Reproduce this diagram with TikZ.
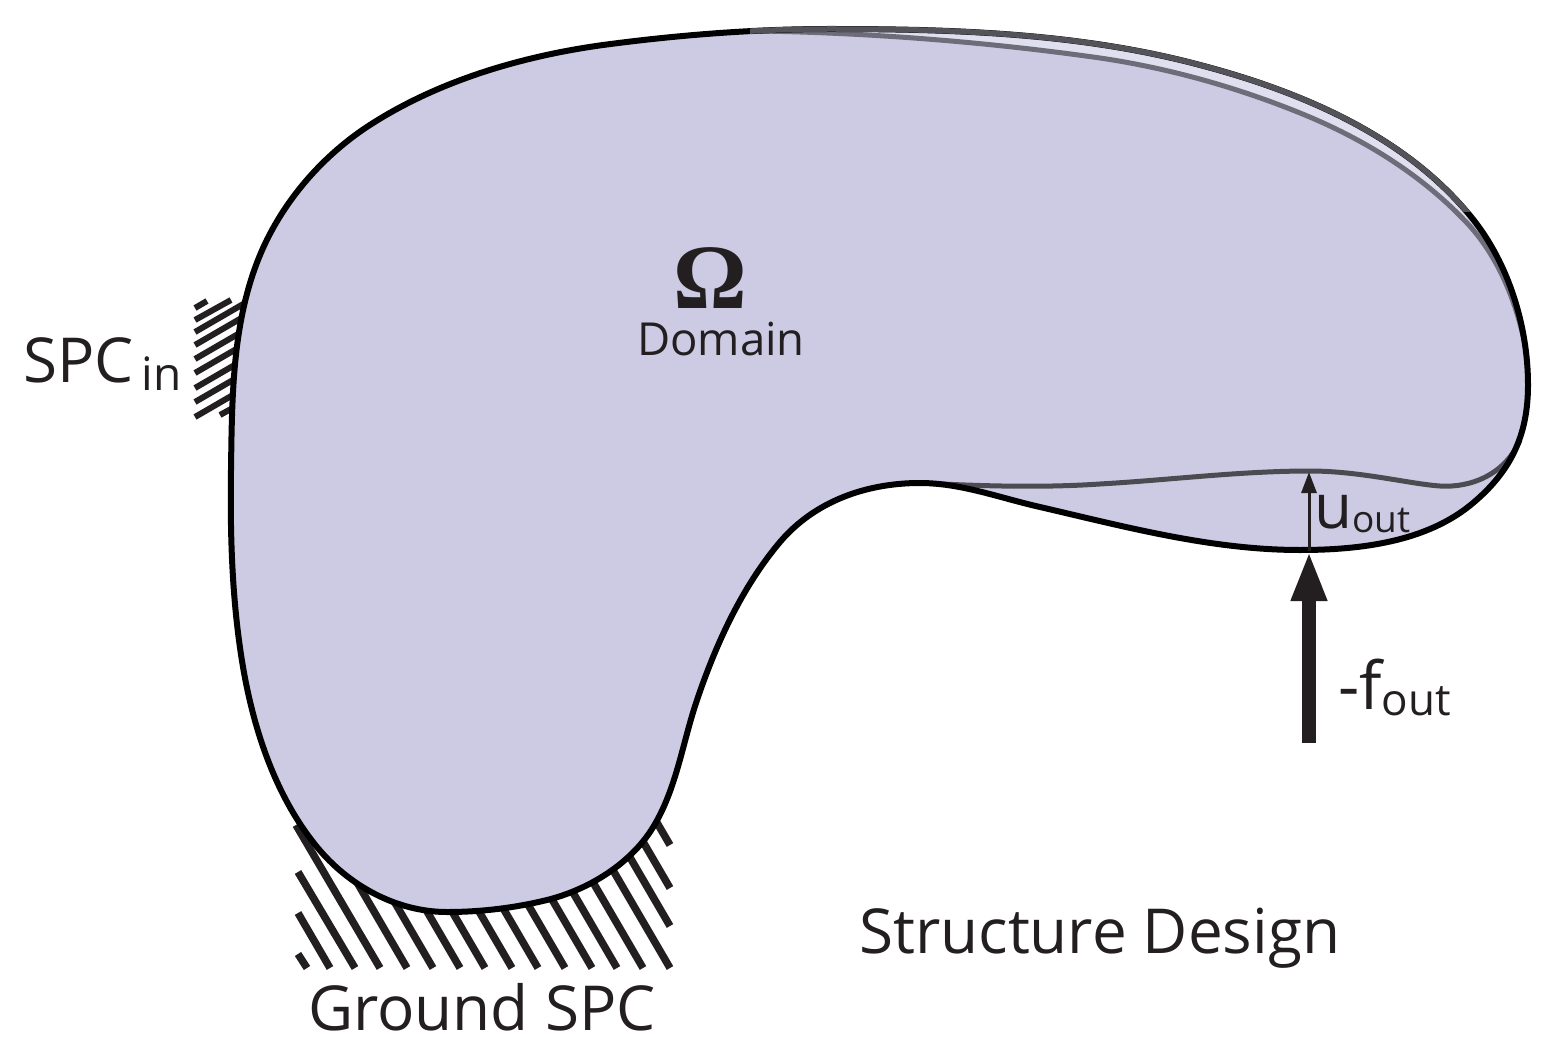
\documentclass[tikz,border=0pt]{standalone}
\usepackage{fontspec}
\setmainfont{Open Sans}
\newfontfamily\omegafont{Liberation Serif}
\usetikzlibrary{arrows.meta}
\definecolor{domainfill}{HTML}{CCCBE3}
\definecolor{gapfill}{HTML}{DFDFF0}
\definecolor{inkblack}{HTML}{231F20}
\definecolor{outergray}{HTML}{55535A}
\definecolor{innergray}{HTML}{6E6C78}
\definecolor{lowergray}{HTML}{4D4B52}
\newcommand{\fs}[1]{\fontsize{#1}{#1}\selectfont}
\tikzset{
  outline/.style={draw=black, line width=6pt, line join=round},
  outermoved/.style={draw=outergray, line width=5.5pt},
  innermoved/.style={draw=innergray, line width=5pt},
  lowermoved/.style={draw=lowergray, line width=5pt},
  hatch/.style={draw=inkblack, line width=7.5pt},
  hatchin/.style={draw=inkblack, line width=6pt},
  textlabel/.style={anchor=base west, inner sep=0pt, text=inkblack},
}
\begin{document}
\begin{tikzpicture}[x=1pt, y=-1pt]
  \useasboundingbox (0,0) rectangle (1560,1059);
  \foreach \xb/\yb/\xa/\ya in {307/968/298/954, 330/968/298/913, 355/968/298/872, 380/968/296/825}
    \draw[hatch] (\xa,\ya) -- (\xb,\yb);
  \foreach \xb in {407,433,460,485,512,538,565,592,617,643,670}
    \draw[hatch] (\xb-70,848) -- (\xb,968);
  \foreach \yb in {926,888,845}
    \draw[hatch] (600,\yb-120) -- (670,\yb);
  \draw[hatchin] (195,308) -- (207,301);
  \draw[hatchin] (195,320) -- (231,300);
  \foreach \ya in {332,345,359,373,388,402,417}
    \draw[hatchin] (195,\ya) -- (245,\ya-29);
  \draw[hatchin] (220,415) -- (240,404);
  \path[save path=\outlinepath] (830,29)
    .. controls (954,29) and (1080,33) .. (1200,65)
    .. controls (1299,91) and (1401,134) .. (1467,212)
    .. controls (1507,258) and (1528,324) .. (1528,385)
    .. controls (1528,435) and (1511,471) .. (1473,503)
    .. controls (1427,542) and (1360,550) .. (1300,550)
    .. controls (1212,550) and (1126,527) .. (1040,507)
    .. controls (1000,498) and (961,483) .. (920,483)
    .. controls (865,483) and (814,502) .. (780,542)
    .. controls (742,587) and (716,644) .. (697,700)
    .. controls (682,744) and (676,793) .. (650,832)
    .. controls (627,866) and (587,890) .. (547,900)
    .. controls (514,908) and (481,912) .. (447,912)
    .. controls (397,912) and (349,886) .. (317,847)
    .. controls (276,797) and (254,731) .. (243,667)
    .. controls (232,602) and (230,536) .. (231,470)
    .. controls (232,399) and (232,326) .. (258,260)
    .. controls (280,204) and (322,155) .. (373,123)
    .. controls (441,80) and (523,56) .. (603,45)
    .. controls (678,35) and (754,29) .. (830,29) -- cycle;
  \fill[domainfill, use path=\outlinepath];
  \begin{scope}
    \clip (760,0) rectangle (1467,225);
    \fill[gapfill, use path=\outlinepath];
    \fill[domainfill] (760,31) .. controls (873,33) and (987,42) .. (1100,58)
      .. controls (1168,68) and (1236,87) .. (1300,113)
      .. controls (1362,138) and (1421,174) .. (1467,223) -- (1467,300) -- (760,300) -- cycle;
  \end{scope}
  \draw[innermoved] (760,31) .. controls (873,33) and (987,42) .. (1100,58)
    .. controls (1168,68) and (1236,87) .. (1300,113)
    .. controls (1362,138) and (1421,174) .. (1467,223)
    .. controls (1498,256) and (1516,301) .. (1525,345);
  \draw[lowermoved] (1520,440) .. controls (1505,475) and (1470,488) .. (1440,486)
    .. controls (1410,484) and (1360,471) .. (1310,471)
    .. controls (1240,471) and (1170,480) .. (1100,484)
    .. controls (1040,488) and (980,486) .. (920,483);
  \draw[outline, use path=\outlinepath];
  \begin{scope}
    \clip (750,0) rectangle (1470,212);
    \draw[outermoved, use path=\outlinepath];
  \end{scope}
  \coordinate (fbase) at (1309,743);
  \coordinate (ftip) at (1309,551);
  \coordinate (utip) at (1309,472);
  \draw[inkblack, line width=14pt, -{Triangle[length=50pt, width=33pt]}] (fbase) -- (ftip);
  \draw[inkblack, line width=3pt, -{Triangle[length=21pt, width=15pt]}] (ftip) -- (utip);
  \node (omega) [inner sep=0pt, text=inkblack, anchor=base] at (710,308) {\omegafont\bfseries\fs{92}Ω};
  \node (domain) [textlabel] at (637,355) {\fs{45.5}Domain};
  \node (spcin) [textlabel] at (23,382) {\fs{62}SPC\hspace{8pt}\raisebox{-8pt}{\fs{46}in}};
  \node (ground) [textlabel] at (308,1030) {\fs{62}Ground SPC};
  \node (design) [textlabel] at (859,953) {\fs{62}Structure Design};
  \node (uout) [textlabel] at (1314,528) {\fs{62}u\raisebox{-4pt}{\fs{37}out}};
  \node (fout) [textlabel] at (1338,709) {\fs{66}-f\raisebox{-6pt}{\fs{44}out}};
\end{tikzpicture}
\end{document}
